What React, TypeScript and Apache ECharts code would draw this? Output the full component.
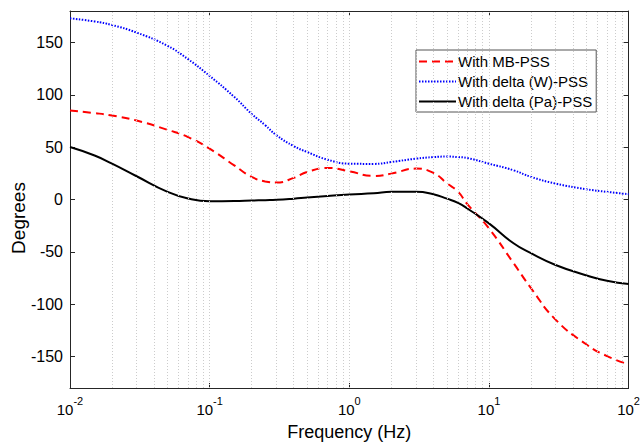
import React, { useEffect, useRef } from "react";
import * as echarts from "echarts";

const freqs = [0.01, 0.015, 0.02, 0.03, 0.05, 0.07, 0.1, 0.15, 0.2, 0.25, 0.3, 0.4, 0.5, 0.7, 1, 1.5, 2, 3, 4, 5, 6, 7, 10, 15, 20, 30, 50, 70, 100];
const mbPss = [84.9, 82.5, 80.2, 75.4, 66.5, 59.6, 48.5, 32.6, 21.6, 17.2, 16.2, 20.6, 26.3, 30.1, 26.9, 22.5, 24.7, 29.5, 25.4, 15.5, 7.5, -4.4, -27.6, -60.8, -84.6, -114.7, -138.5, -149.5, -157.5];
const deltaW = [173, 170, 166.6, 159.4, 146.7, 134, 118, 98, 81.7, 71, 61.5, 51, 45.3, 38, 34.2, 34, 35.8, 39, 40.5, 41, 40.5, 39.6, 34.2, 27.9, 21.6, 15.2, 9.8, 7.3, 5.1];
const deltaPa = [50.1, 42, 34.2, 22.2, 7.3, 1, -1.6, -1.5, -1, -0.6, -0.3, 0.8, 1.9, 3.4, 4.8, 6, 7.3, 7.3, 5, 0.8, -3.2, -8.6, -22.8, -41.8, -51.3, -62.5, -72.5, -77.6, -80.8];

const seriesNames = ["With MB-PSS", "With delta (W)-PSS", "With delta (Pa)-PSS"];
const yTicks = [-150, -100, -50, 0, 50, 100, 150];
const decades = [0.01, 0.1, 1, 10];
const gridMultipliers = [1, 2, 3, 4, 5, 6, 7, 8, 9];

const FONT = "'Liberation Sans', Arial, Helvetica, sans-serif";

export default function App() {
  const ref = useRef<HTMLDivElement>(null);
  useEffect(() => {
    if (!ref.current) return;
    const chart = echarts.init(ref.current, null, { renderer: "svg" });
    const gridLines: any[] = [];
    decades.forEach((d) => {
      gridMultipliers.forEach((m) => {
        const v = d * m;
        if (v > 0.0100001 && v < 99.999) gridLines.push({ xAxis: v });
      });
    });
    const pair = (ys: number[]) => freqs.map((f, i) => [f, ys[i]]);
    const xBase = {
      type: "log",
      logBase: 10,
      min: 0.01,
      max: 100,
      splitLine: { show: false },
      axisLine: { show: true, onZero: false, lineStyle: { color: "#262626", width: 1 } },
      axisTick: { show: true, inside: true, length: 5, lineStyle: { color: "#262626" } },
    };
    const yBase = {
      type: "value",
      min: -180,
      max: 180,
      splitLine: { show: false },
      axisLine: { show: true, onZero: false, lineStyle: { color: "#262626", width: 1 } },
    };
    chart.setOption({
      animation: false,
      grid: { left: 70, right: 12, top: 11, bottom: 56 },
      legend: {
        show: true,
        data: seriesNames,
        orient: "vertical",
        left: 416,
        top: 50,
        padding: [4, 4, 3, 2],
        itemWidth: 37,
        itemHeight: 14,
        itemGap: 5,
        backgroundColor: "#ffffff",
        borderColor: "#555555",
        borderWidth: 1,
        itemStyle: { opacity: 0 },
        textStyle: { fontFamily: FONT, fontSize: 15, color: "#000", padding: [0, 0, 0, -3] },
      },
      xAxis: [
        {
          ...xBase,
          position: "bottom",
          name: "Frequency (Hz)",
          nameLocation: "middle",
          nameGap: 35,
          nameTextStyle: { fontFamily: FONT, fontSize: 18, color: "#000" },
          axisLabel: {
            margin: 7,
            formatter: (v: number) => "{b|10}{s|" + Math.round(Math.log10(v)) + "}",
            rich: {
              b: { fontFamily: FONT, fontSize: 15, color: "#000", lineHeight: 22, verticalAlign: "bottom" },
              s: { fontFamily: FONT, fontSize: 11, color: "#000", lineHeight: 22, verticalAlign: "top" },
            },
          },
        },
        {
          ...xBase,
          position: "top",
          axisLabel: { show: false },
        },
      ],
      yAxis: [
        {
          ...yBase,
          position: "left",
          axisTick: { show: true, inside: true, length: 5, customValues: yTicks, lineStyle: { color: "#262626" } },
          axisLabel: { customValues: yTicks, fontFamily: FONT, fontSize: 16, color: "#000", margin: 7 },
        },
        {
          ...yBase,
          position: "right",
          axisTick: { show: true, inside: true, length: 5, customValues: yTicks, lineStyle: { color: "#262626" } },
          axisLabel: { show: false, customValues: yTicks },
        },
      ],
      graphic: [
        {
          type: "text",
          x: 18,
          y: 218,
          rotation: Math.PI / 2,
          style: {
            text: "Degrees",
            fontFamily: FONT,
            fontSize: 19,
            fill: "#000",
            align: "center",
            verticalAlign: "middle",
          },
        },
      ],
      series: [
        {
          name: "grid",
          type: "line",
          data: [],
          silent: true,
          markLine: {
            silent: true,
            symbol: "none",
            label: { show: false },
            lineStyle: { color: "#cccccc", type: [1, 2], width: 1 },
            data: gridLines,
          },
        },
        {
          name: seriesNames[0],
          type: "line",
          data: pair(mbPss),
          smooth: 0.5,
          symbol: "none",
          lineStyle: { color: "#ff0000", width: 2, type: [8, 5] },
          itemStyle: { color: "#ff0000" },
          z: 3,
        },
        {
          name: seriesNames[1],
          type: "line",
          data: pair(deltaW),
          smooth: 0.5,
          symbol: "none",
          lineStyle: { color: "#0000ff", width: 2, type: [1.5, 1.5] },
          itemStyle: { color: "#0000ff" },
          z: 3,
        },
        {
          name: seriesNames[2],
          type: "line",
          data: pair(deltaPa),
          smooth: 0.5,
          symbol: "none",
          lineStyle: { color: "#000000", width: 2 },
          itemStyle: { color: "#000000" },
          z: 3,
        },
      ],
    });
    return () => chart.dispose();
  }, []);
  return <div ref={ref} style={{ width: 643, height: 446, position: "absolute", left: 0, top: 0, background: "#fff" }} />;
}
